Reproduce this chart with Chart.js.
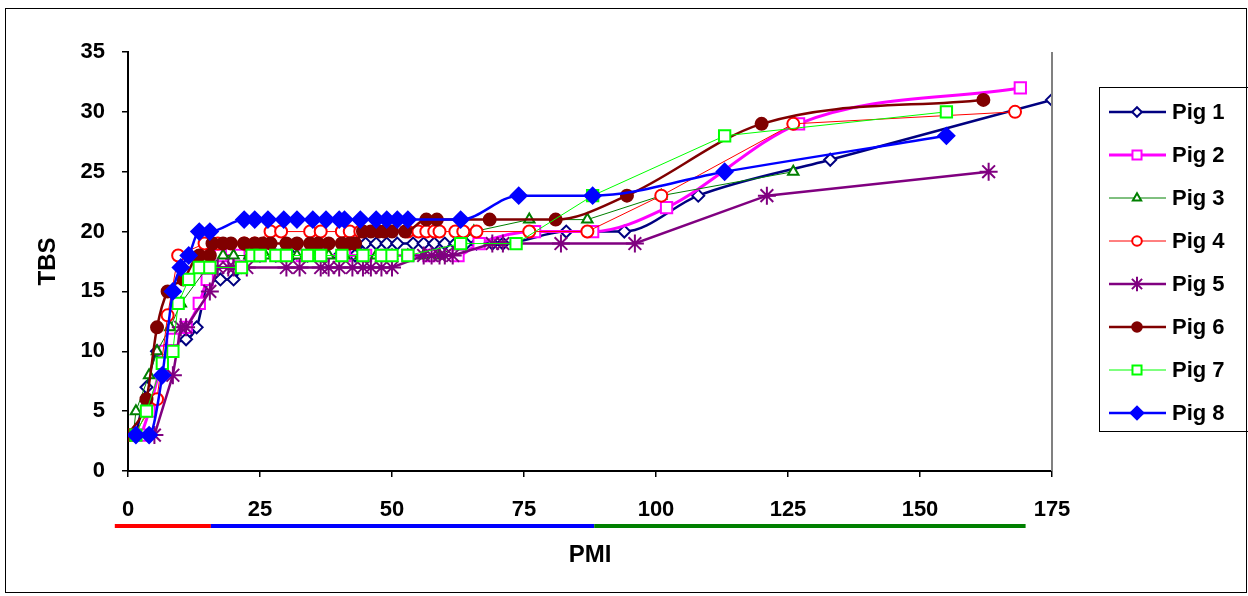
<!DOCTYPE html>
<html>
<head>
<meta charset="utf-8">
<script src="https://cdn.jsdelivr.net/npm/chart.js@4.4.0/dist/chart.umd.min.js"></script>
<style>
  html, body { margin: 0; padding: 0; background: #fff; }
  #wrap { width: 1248px; height: 596px; }
</style>
</head>
<body>
<div id="wrap"><canvas id="tbs"></canvas></div>
<script>
// TBS vs PMI
const pigNames = ["Pig 1", "Pig 2", "Pig 3", "Pig 4", "Pig 5", "Pig 6", "Pig 7", "Pig 8"];

const pig1 = [[1.5,3],[3.5,7],[5.5,10],[11,11],[13,12],[15.5,16],[17.5,16],[20,16],[22.5,18],[25,18],[28,18],[31,18],[34,18],[37,18],[40,18],[43,18],[45,19],[47,19],[49,19],[51,19],[54,19],[56,19],[58,19],[60,19],[62,19],[64,19],[66,19],[69,19],[71,19],[83,20],[94,20],[108,23],[133,26],[175,31]];
const pig2 = [[2.5,3],[4,5],[7,10],[8.5,11],[11,12],[13.5,14],[15,16],[17.5,18],[21,18],[25,18],[29,18],[33,18],[37,18],[41,18],[45,18],[49,18],[53,18],[57,18],[62.5,18],[66.5,19],[77,20],[88,20],[102,22],[127,29],[169,32]];
const pig3 = [[1,3],[1.5,5],[4,8],[5.5,10],[8,12],[10,14],[15,17],[18,18],[20,18],[23,18],[26,18],[29,18],[32,18],[35,18],[38,18],[41,18],[44,18],[47,18],[50,18],[53,18],[56,18],[59,18],[63,19],[65.5,20],[76,21],[87,21],[101,23],[126,25]];
const pig4 = [[1,3],[5.5,6],[7.5,13],[9.5,18],[14.5,19],[17,19],[22,19],[24,19],[27,20],[29,20],[34.5,20],[36.5,20],[40.5,20],[42,20],[44,20],[53,20],[55,20],[56.5,20],[58,20],[59,20],[62,20],[63.5,20],[66,20],[76,20],[87,20],[101,23],[126,29],[168,30]];
const pig5 = [[5,3],[8.5,8],[10,12],[11,12],[15.5,15],[17,17],[19,17],[20,17],[22.5,17],[30,17],[32.5,17],[36.5,17],[38,17],[40,17],[42.5,17],[44.5,17],[46,17],[48,17],[50,17],[56,18],[57.5,18],[59,18],[60,18],[61.5,18],[69,19],[71,19],[82,19],[96,19],[121,23],[163,25]];
const pig6 = [[0,3],[3.5,6],[5.5,12],[7.5,15],[10.5,16],[13.5,18],[15.5,18],[16,19],[18,19],[19.5,19],[22,19],[24,19],[25.5,19],[27,19],[30,19],[32,19],[34.5,19],[36,19],[38,19],[40.5,19],[42,19],[43,19],[44.5,20],[46,20],[47.5,20],[48.5,20],[50,20],[52.5,20],[56.5,21],[58.5,21],[68.5,21],[81,21],[94.5,23],[120,29],[162,31]];
const pig7 = [[1.5,3],[3.5,5],[6.5,9],[8.5,10],[9.5,14],[11.5,16],[13.5,17],[15.5,17],[21.5,17],[23.5,18],[25,18],[28,18],[30,18],[34,18],[36.5,18],[40.5,18],[44.5,18],[48,18],[50,18],[53,18],[63,19],[73.5,19],[88,23],[113,28],[155,30]];
const pig8 = [[1.5,3],[4,3],[6.5,8],[8.5,15],[10,17],[11.5,18],[13.5,20],[15.5,20],[22,21],[24,21],[26.5,21],[29.5,21],[32,21],[35,21],[37.5,21],[40,21],[41,21],[44,21],[47,21],[49,21],[51,21],[53,21],[63,21],[74,23],[88,23],[113,25],[155,28]];

const xTicks = [0, 25, 50, 75, 100, 125, 150, 175];
const yTicks = [0, 5, 10, 15, 20, 25, 30, 35];

// coloured phase bar under the x axis (PMI units)
const phaseBreaks = [-2.5, 15.7, 88.3, 170];
const phaseColors = ["#ff0000", "#0000ff", "#008000"];

const seriesData = [pig1, pig2, pig3, pig4, pig5, pig6, pig7, pig8];
const lineColors = ["#000080", "#ff00ff", "#008000", "#ff0000", "#800080", "#800000", "#00ff00", "#0000ff"];
const lineWidths = [2.5, 3, 1, 1, 2.5, 2.5, 1, 2.5];
const markerStyles = ["rectRot", "rect", "triangle", "circle", "star", "circle", "rect", "rectRot"];
const markerSizes = [6, 8, 6, 6, 9, 6, 8, 8];
const markerFilled = [false, false, false, false, false, true, false, true];
const smooth = [true, true, false, false, false, true, false, true];

const FONT = "'Liberation Sans', Arial, sans-serif";

const datasets = seriesData.map((pts, i) => ({
  label: pigNames[i],
  data: pts.map(p => ({ x: p[0], y: p[1] })),
  borderColor: lineColors[i],
  borderWidth: lineWidths[i],
  pointStyle: markerStyles[i],
  pointRadius: markerSizes[i],
  pointBorderColor: lineColors[i],
  pointBorderWidth: 2,
  pointBackgroundColor: markerFilled[i] ? lineColors[i] : "#ffffff",
  tension: smooth[i] ? 0.3 : 0,
  cubicInterpolationMode: smooth[i] ? "monotone" : "default",
  fill: false,
  order: seriesData.length - 1 - i,
}));

const decorPlugin = {
  id: "decor",
  beforeDraw(chart) {
    const ctx = chart.ctx;
    ctx.save();
    ctx.fillStyle = "#fff";
    ctx.fillRect(0, 0, chart.width, chart.height);
    ctx.restore();
  },
  afterDraw(chart) {
    const ctx = chart.ctx;
    const xs = chart.scales.x;
    const area = chart.chartArea;
    ctx.save();

    // outer frame
    ctx.strokeStyle = "#000";
    ctx.lineWidth = 1;
    ctx.strokeRect(5.5, 8.5, 1241, 584);

    // right border of the plot area
    ctx.strokeStyle = "#808080";
    ctx.lineWidth = 2;
    ctx.beginPath();
    ctx.moveTo(area.right, area.top);
    ctx.lineTo(area.right, area.bottom);
    ctx.stroke();

    // phase bar
    ctx.lineWidth = 4;
    for (let i = 0; i < phaseColors.length; i++) {
      ctx.strokeStyle = phaseColors[i];
      ctx.beginPath();
      ctx.moveTo(xs.getPixelForValue(phaseBreaks[i]), 526);
      ctx.lineTo(xs.getPixelForValue(phaseBreaks[i + 1]), 526);
      ctx.stroke();
    }

    // legend
    ctx.strokeStyle = "#000";
    ctx.lineWidth = 1;
    ctx.strokeRect(1099.5, 87.5, 1142, 344);
    ctx.font = "bold 22px " + FONT;
    ctx.textBaseline = "middle";
    ctx.textAlign = "left";
    chart.data.datasets.forEach((ds, i) => {
      const y = 112 + i * 43;
      ctx.strokeStyle = ds.borderColor;
      ctx.lineWidth = ds.borderWidth;
      ctx.beginPath();
      ctx.moveTo(1109, y);
      ctx.lineTo(1166, y);
      ctx.stroke();
      ctx.fillStyle = ds.pointBackgroundColor;
      ctx.strokeStyle = ds.pointBorderColor;
      ctx.lineWidth = 2;
      Chart.helpers.drawPoint(ctx, {
        pointStyle: ds.pointStyle,
        radius: ds.pointRadius * 0.8,
        rotation: 0,
        borderWidth: 2,
      }, 1137, y);
      ctx.fillStyle = "#000";
      ctx.fillText(ds.label, 1172, y + 1);
    });
    ctx.restore();
  },
};

new Chart(document.getElementById("tbs"), {
  type: "line",
  data: { datasets },
  plugins: [decorPlugin],
  options: {
    responsive: true,
    maintainAspectRatio: false,
    animation: false,
    layout: { padding: { top: 52, right: 196, left: 0, bottom: 0 } },
    plugins: { legend: { display: false }, tooltip: { enabled: false } },
    scales: {
      x: {
        type: "linear",
        min: 0,
        max: 175,
        afterFit: (s) => { s.height = 125; },
        afterBuildTicks: (s) => { s.ticks = xTicks.map(v => ({ value: v })); },
        grid: { display: true, drawOnChartArea: false, drawTicks: true, tickLength: 6, color: "#000", lineWidth: 1.5 },
        border: { display: true, color: "#000", width: 2 },
        ticks: { color: "#000", padding: 20, font: { family: FONT, size: 22, weight: "bold" } },
        title: { display: true, text: "PMI", color: "#000", padding: { top: 0, bottom: 26 }, font: { family: FONT, size: 24, weight: "bold" } },
      },
      y: {
        type: "linear",
        min: 0,
        max: 35,
        afterFit: (s) => { s.width = 128; },
        afterBuildTicks: (s) => { s.ticks = yTicks.map(v => ({ value: v })); },
        grid: { display: true, drawOnChartArea: false, drawTicks: true, tickLength: 6, color: "#000", lineWidth: 1.5 },
        border: { display: true, color: "#000", width: 2 },
        ticks: { color: "#000", padding: 17, font: { family: FONT, size: 22, weight: "bold" } },
        title: { display: true, text: "TBS", color: "#000", padding: { top: 34, bottom: 0 }, font: { family: FONT, size: 24, weight: "bold" } },
      },
    },
  },
});
</script>
</body>
</html>
